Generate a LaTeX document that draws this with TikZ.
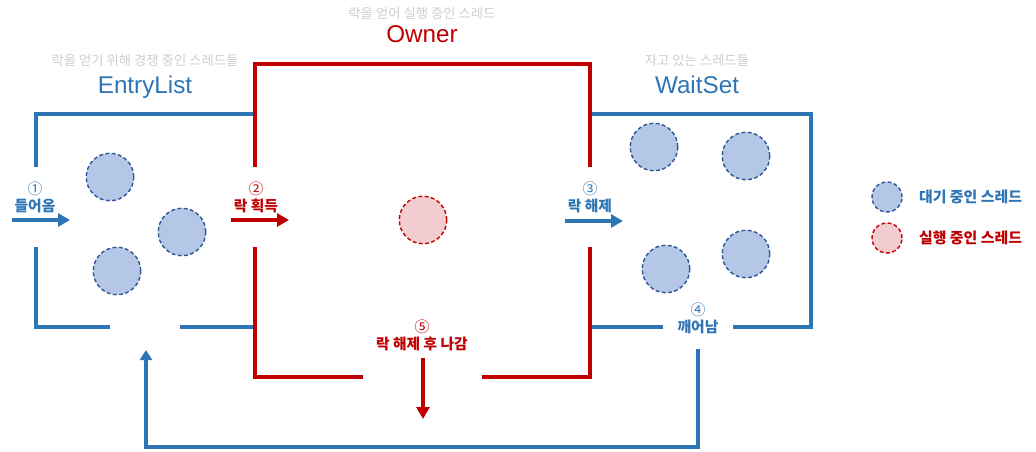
\documentclass[tikz,border=0pt]{standalone}
\usepackage{fontspec}
\setmainfont{Liberation Sans}
\newfontfamily\krfont{Noto Sans CJK KR}
\definecolor{listblue}{RGB}{46,117,182}
\definecolor{ownerred}{RGB}{192,0,0}
\definecolor{waitfill}{RGB}{180,199,231}
\definecolor{waitedge}{RGB}{47,85,151}
\definecolor{runfill}{RGB}{242,204,206}
\definecolor{hintgray}{RGB}{205,205,205}
\usetikzlibrary{arrows.meta, positioning}
\tikzset{
  bluewall/.style={draw=listblue, line width=1.8pt},
  redwall/.style={draw=ownerred, line width=1.8pt},
  waitthread/.style={
    circle, draw=waitedge, fill=waitfill, dashed,
    dash pattern=on 2.2pt off 1.4pt, line width=0.8pt,
    minimum size=0.95cm, inner sep=0pt},
  runthread/.style={
    circle, draw=ownerred, fill=runfill, dashed,
    dash pattern=on 2.2pt off 1.4pt, line width=0.8pt,
    minimum size=0.95cm, inner sep=0pt},
  title/.style={font=\fontsize{13.8}{15}\selectfont, anchor=base, inner sep=0pt},
  hint/.style={font=\krfont\fontsize{7.6}{9}\selectfont, text=hintgray,
    anchor=base, inner sep=0pt},
  steplbl/.style={font=\krfont\bfseries\fontsize{8.4}{9}\selectfont, inner sep=0pt},
  stepnum/.style={font=\krfont\fontsize{8.5}{9}\selectfont, inner sep=0pt},
  legtxt/.style={font=\krfont\bfseries\fontsize{8.5}{9}\selectfont, inner sep=0pt},
  barr/.style={-{Triangle[length=2.4mm, width=2.6mm]}, line width=2.2pt, listblue},
  rarr/.style={-{Triangle[length=2.4mm, width=2.6mm]}, line width=2.2pt, ownerred},
  backarr/.style={-{Triangle[length=2mm, width=2.4mm]}, line width=2pt, listblue},
}
\begin{document}
\begin{tikzpicture}[x=0.02cm, y=-0.02cm]
  \useasboundingbox (0,0) rectangle (1036,451);

  % titles
  \node[title, text=listblue] (entrytitle) at (145,93) {EntryList};
  \node[hint] (entryhint) at (145,65) {락을 얻기 위해 경쟁 중인 스레드들};
  \node[title, text=ownerred] (ownertitle) at (422,42) {Owner};
  \node[hint] (ownerhint) at (422,18) {락을 얻어 실행 중인 스레드};
  \node[title, text=listblue] (waittitle) at (697,93) {WaitSet};
  \node[hint] (waithint) at (697,65) {자고 있는 스레드들};

  % walls
  \draw[bluewall] (36,167) -- (36,114) -- (255,114);
  \draw[bluewall] (36,247) -- (36,327) -- (110,327);
  \draw[bluewall] (180,327) -- (255,327);
  \draw[bluewall] (590,114) -- (811,114) -- (811,327) -- (733,327);
  \draw[bluewall] (663,327) -- (592,327);
  \draw[redwall] (255,167) -- (255,64) -- (590,64) -- (590,167);
  \draw[redwall] (255,247) -- (255,377) -- (363,377);
  \draw[redwall] (482,377) -- (590,377) -- (590,247);

  % threads
  \node[waitthread] (e1) at (110,177) {};
  \node[waitthread] (e2) at (182,232) {};
  \node[waitthread] (e3) at (117,271) {};
  \node[runthread] (own) at (423,220) {};
  \node[waitthread] (w1) at (654,147) {};
  \node[waitthread] (w2) at (746,156) {};
  \node[waitthread] (w3) at (666,269) {};
  \node[waitthread] (w4) at (746,254) {};

  % step labels
  \node[steplbl, text=listblue] (enter) at (35,206) {들어옴};
  \node[stepnum, text=listblue, above=1.5pt of enter] (enternum) {①};
  \node[steplbl, text=ownerred] (acquire) at (256,206) {락 획득};
  \node[stepnum, text=ownerred, above=1.5pt of acquire] (acqnum) {②};
  \node[steplbl, text=listblue] (release) at (590,206) {락 해제};
  \node[stepnum, text=listblue, above=1.5pt of release] (relnum) {③};
  \node[steplbl, text=listblue] (wake) at (698,327) {깨어남};
  \node[stepnum, text=listblue, above=1.5pt of wake] (wakenum) {④};
  \node[steplbl, text=ownerred] (leave) at (422,344) {락 해제 후 나감};
  \node[stepnum, text=ownerred, above=1.5pt of leave] (leavenum) {⑤};

  % arrows
  \coordinate (in0) at (12,220);   \coordinate (in1) at (70,220);
  \coordinate (acq0) at (231,220); \coordinate (acq1) at (289,220);
  \coordinate (rel0) at (565,221); \coordinate (rel1) at (623,221);
  \coordinate (out0) at (423,358); \coordinate (out1) at (423,419);
  \coordinate (wakeout) at (698,349);
  \coordinate (reentry) at (146,350);
  \draw[barr] (in0) -- (in1);
  \draw[rarr] (acq0) -- (acq1);
  \draw[barr] (rel0) -- (rel1);
  \draw[rarr] (out0) -- (out1);
  \draw[backarr] (wakeout) -- ++(0,98) -| (reentry);

  % legend
  \node[waitthread, minimum size=0.6cm] (legwait) at (887,197) {};
  \node[legtxt, text=listblue, right=0.32cm of legwait] (legwaittxt) {대기 중인 스레드};
  \node[runthread, minimum size=0.6cm] (legrun) at (887,238) {};
  \node[legtxt, text=ownerred, right=0.32cm of legrun] (legruntxt) {실행 중인 스레드};
\end{tikzpicture}
\end{document}
